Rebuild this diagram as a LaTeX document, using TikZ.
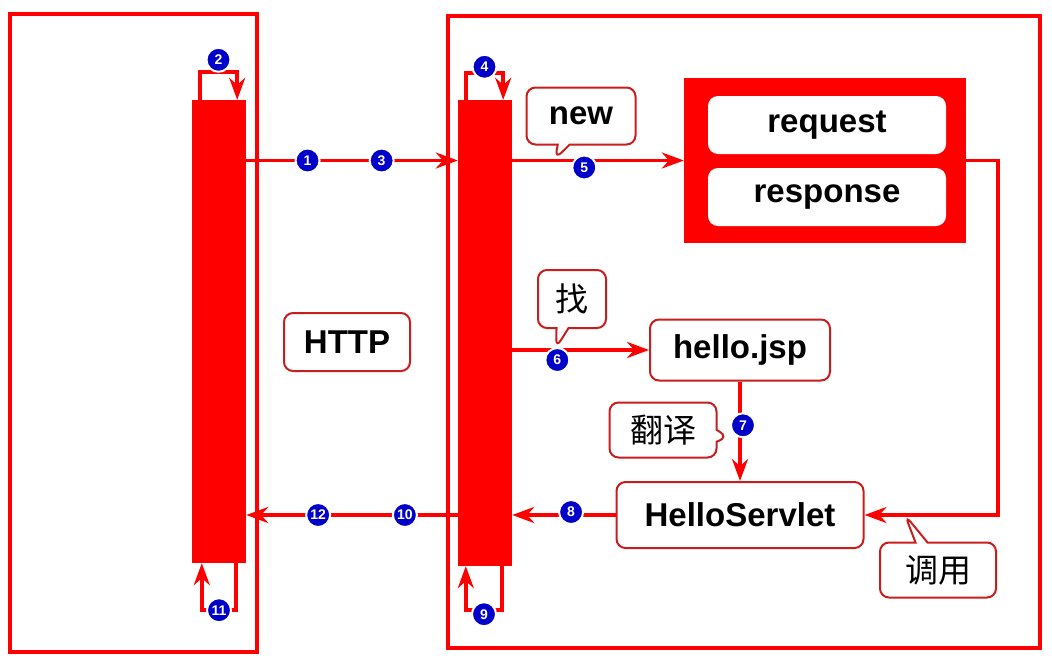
\documentclass[tikz,border=0pt]{standalone}
\usepackage{fontspec}
\setmainfont{Liberation Sans}
\newfontfamily\cjk{Noto Sans CJK SC}
\usetikzlibrary{positioning,arrows.meta,shapes.callouts}

\definecolor{jred}{RGB}{255,0,0}
\definecolor{edgered}{RGB}{200,30,30}
\definecolor{stepblue}{RGB}{0,0,200}

\begin{document}
\begin{tikzpicture}[x=1pt,y=-1pt,
    frame/.style={draw=jred,line width=3.5pt},
    bar/.style={fill=jred,inner sep=0pt,minimum width=54pt},
    flow/.style={draw=jred,line width=3.5pt,-{Stealth[length=22pt,width=16pt]}},
    lbl/.style={draw=edgered,line width=2pt,fill=white,rounded corners=9pt,inner sep=0pt,
      font=\bfseries\fontsize{33}{36}\selectfont},
    obj/.style={fill=white,rounded corners=10pt,inner sep=0pt,minimum width=238pt,minimum height=58pt,
      font=\bfseries\fontsize{33}{36}\selectfont},
    tip/.style={rectangle callout,draw=edgered,line width=2pt,fill=white,rounded corners=9pt,inner sep=0pt,
      callout pointer width=12pt,font=\fontsize{33}{36}\selectfont},
    num/.style={circle,fill=stepblue,draw=white,line width=2pt,text=white,inner sep=0pt,minimum size=24pt,
      font=\bfseries\fontsize{14}{14}\selectfont}]
  \useasboundingbox[fill=white] (0,0) rectangle (1052,665);

  % browser and server
  \draw[frame] (10,14) rectangle (257,652);
  \draw[frame] (448,16) rectangle (1040,648);
  \node[bar,minimum height=463pt] (cbar) at (219,331.5) {};
  \node[bar,minimum height=466pt] (sbar) at (485,333) {};

  \node[lbl,minimum width=126pt,minimum height=58pt] (http) at (347,342) {HTTP};

  \node[fill=jred,minimum width=282pt,minimum height=165pt,inner sep=0pt] (redbox) at (825,160.5) {};
  \node[obj] (req) at (827,125) {request};
  \node[obj] (resp) at (827,197) {response};

  \node[lbl,minimum width=180pt,minimum height=61pt] (jsp) at (740,350) {hello.jsp};
  \node[lbl,minimum width=247pt,minimum height=66pt] (servlet) at (740,515) {HelloServlet};

  % request side
  \draw[flow] ([xshift=8pt]cbar.north west) -- ++(0,-28) -| ([xshift=-9pt]cbar.north east)
    node[num,pos=0.25,yshift=12pt] {2};
  \draw[flow] (cbar.east |- redbox.west) -- node[num,pos=0.29] {1} node[num,pos=0.64] {3} (sbar.west |- redbox.west);
  \draw[flow] ([xshift=8pt]sbar.north west) -- ++(0,-27) -| ([xshift=-9pt]sbar.north east)
    node[num,pos=0.25,yshift=6pt] {4};
  \draw[flow] (sbar.east |- redbox.west) -- node[num,pos=0.42,yshift=-7pt] {5} (redbox.west);
  \draw[flow] (sbar.east |- jsp.west) -- node[num,pos=0.33,yshift=-10pt] {6} (jsp.west);
  \draw[flow] (jsp.south) -- node[num,pos=0.44,xshift=3pt] {7} (servlet.north);
  \draw[flow] (redbox.east) -- ++(32,0) |- (servlet.east);

  % response side
  \draw[flow] (servlet.west) -- node[num,pos=0.43,yshift=3pt] {8} (sbar.east |- servlet.west);
  \draw[flow] ([xshift=-10pt]sbar.south east) -- ++(0,44) -| ([xshift=8pt]sbar.south west)
    node[num,pos=0.25,yshift=-4pt] {9};
  \draw[flow] (sbar.west |- servlet.west) -- node[num,pos=0.25] {10} node[num,pos=0.66] {12} (cbar.east |- servlet.west);
  \draw[flow] ([xshift=-10pt]cbar.south east) -- ++(0,47) -| ([xshift=10pt]cbar.south west)
    node[num,pos=0.25] {11};

  % callouts
  \node[tip,minimum width=109pt,minimum height=57pt,callout absolute pointer={(555,159)}] (newtip) at (581,116) {\bfseries new};
  \node[tip,minimum width=68pt,minimum height=58pt,callout absolute pointer={(556,348)}] (findtip) at (572,299) {\cjk 找};
  \node[tip,minimum width=107pt,minimum height=55pt,callout absolute pointer={(728,437)}] (transtip) at (663,430) {\cjk 翻译};
  \node[tip,minimum width=116pt,minimum height=55pt,callout absolute pointer={(905,515)}] (calltip) at (938,570) {\cjk 调用};
\end{tikzpicture}
\end{document}
